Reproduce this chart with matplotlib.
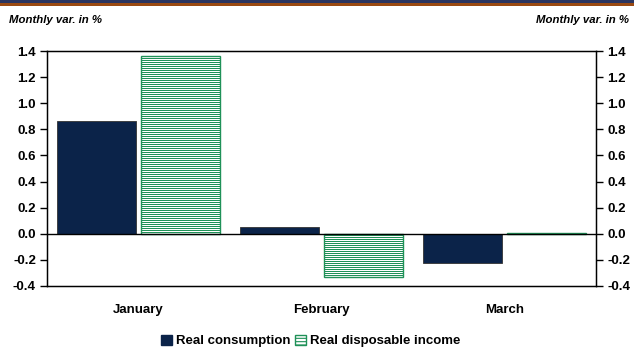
import numpy as np
import matplotlib.pyplot as plt
from matplotlib.patches import Patch, Rectangle

plt.rcParams['font.family'] = ['Liberation Sans', 'DejaVu Sans']
plt.rcParams['hatch.linewidth'] = 0.8

# data
months = ['January', 'February', 'March']
real_consumption = [0.86, 0.05, -0.22]
real_disposable_income = [1.36, -0.33, 0.005]
yticks = [-0.4, -0.2, 0.0, 0.2, 0.4, 0.6, 0.8, 1.0, 1.2, 1.4]

navy = '#0B2349'
green = '#1F9158'

W, H = 634, 348
fig = plt.figure(figsize=(W / 100, H / 100), dpi=100)

# top band
fig.add_artist(Rectangle((0, 1 - 3 / H), 1, 3 / H, transform=fig.transFigure,
                         color='#2A3560', lw=0))
fig.add_artist(Rectangle((0, 1 - 6 / H), 1, 3 / H, transform=fig.transFigure,
                         color='#9A4A12', lw=0))

ax = fig.add_axes([47 / W, (H - 286) / H, 549 / W, 235 / H])
ax.set_xlim(-0.5, 2.5)
ax.set_ylim(-0.4, 1.4)

x = np.arange(len(months))
bw = 0.435
off = bw / 2 + 0.012
ax.bar(x - off, real_consumption, bw, color=navy, edgecolor='#333333', lw=0.6, zorder=2)

# striped bars: white fill, 1px green rules every 2px, green outline
ax.bar(x + off, real_disposable_income, bw, color='white', lw=0, zorder=2)
inv = ax.transData.inverted()
for xc, v in zip(x + off, real_disposable_income):
    p0, p1 = sorted(ax.transData.transform([(0, 0), (0, v)])[:, 1])
    # integer pixel rows so the snapper puts each rule on a whole pixel
    ys_px = np.arange(np.floor(p0) + 2, p1 - 1, 2)
    if len(ys_px):
        ys = inv.transform(np.column_stack([np.zeros_like(ys_px), ys_px]))[:, 1]
        ax.hlines(ys, xc - bw / 2, xc + bw / 2, color=green, lw=0.72, zorder=2.5)
ax.bar(x + off, real_disposable_income, bw, fill=False, edgecolor=green, lw=1.0, zorder=3)
ax.axhline(0, color='black', lw=1.0, zorder=4)

fs = 9.5
ax.set_yticks(yticks)
ax.set_yticklabels([f'{v:.1f}' for v in yticks], fontsize=fs, fontweight='bold')
ax.set_xticks(x)
ax.set_xticklabels(months, fontsize=fs, fontweight='bold')
ax.tick_params(axis='x', length=0, pad=13)
ax.tick_params(axis='y', direction='out', length=5, width=1, pad=3)
for s in ax.spines.values():
    s.set_linewidth(1.0)

ax2 = ax.twinx()
ax2.set_ylim(-0.4, 1.4)
ax2.set_yticks(yticks)
ax2.set_yticklabels([f'{v:.1f}' for v in yticks], fontsize=fs, fontweight='bold')
ax2.tick_params(axis='y', direction='out', length=5, width=1, pad=3)

fig.text(9 / W, 1 - 20 / H, 'Monthly var. in %', fontsize=8.2, fontweight='bold',
         fontstyle='italic', va='center', ha='left')
fig.text(629 / W, 1 - 20 / H, 'Monthly var. in %', fontsize=8.2, fontweight='bold',
         fontstyle='italic', va='center', ha='right')

handles = [Patch(facecolor=navy, edgecolor=navy, label='Real consumption'),
           Patch(facecolor='white', edgecolor=green, hatch='-----', label='Real disposable income')]
fig.legend(handles=handles, loc='center', bbox_to_anchor=(0.49, 1 - 341 / H), ncol=2,
           frameon=False, prop={'weight': 'bold', 'size': fs}, handlelength=0.8,
           handleheight=0.8, handletextpad=0.3, columnspacing=0.4, borderpad=0)

fig.savefig('out.png', dpi=100)
